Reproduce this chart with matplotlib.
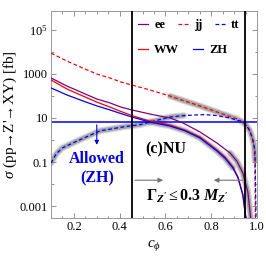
import numpy as np
import matplotlib
matplotlib.use('Agg')
import matplotlib.pyplot as plt

plt.rcParams['font.family'] = ['Liberation Serif', 'DejaVu Serif']
plt.rcParams['mathtext.fontset'] = 'custom'
plt.rcParams['mathtext.rm'] = 'Liberation Serif'
plt.rcParams['mathtext.it'] = 'Liberation Serif:italic'
plt.rcParams['mathtext.bf'] = 'Liberation Serif:bold'
plt.rcParams['mathtext.bfit'] = 'Liberation Serif:italic:bold'

# cross sections (fb) vs c_phi
c_ee = [0.100, 0.170, 0.240, 0.301, 0.358, 0.406, 0.454, 0.533, 0.620, 0.677,
        0.751, 0.825, 0.882, 0.912, 0.938, 0.960, 0.973]
s_ee = [650, 280, 135, 72, 48, 31, 23, 15, 10, 5.9,
        2.3, 0.73, 0.26, 0.11, 0.032, 0.0044, 0.00026]

c_jj = [0.100, 0.170, 0.240, 0.301, 0.358, 0.406, 0.454, 0.533, 0.620, 0.686,
        0.751, 0.817, 0.864, 0.908, 0.938, 0.956, 0.969, 0.978, 0.987, 0.991, 0.993]
s_jj = [8700, 3800, 1800, 980, 650, 425, 310, 185, 98, 58,
        35, 20, 13.5, 9.4, 6.5, 4.3, 2.6, 1.35, 0.59, 0.12, 0.0002]

c_tt = [0.100, 0.122, 0.148, 0.214, 0.314, 0.414, 0.489, 0.533, 0.620, 0.680,
        0.720, 0.772, 0.825, 0.882, 0.912, 0.938, 0.956, 0.969, 0.982, 0.991, 0.996]
s_tt = [0.09, 0.23, 0.43, 0.9, 2.6, 3.9, 5.0, 6.5, 11, 12.8,
        13.5, 14.2, 12.8, 10, 8, 6.5, 4.3, 2.6, 1.0, 0.35, 0.0002]

c_vv = [0.100, 0.170, 0.240, 0.301, 0.358, 0.406, 0.454, 0.533, 0.620, 0.686,
        0.751, 0.825, 0.860, 0.895, 0.917, 0.938, 0.952]
s_ww = [530, 205, 98, 52, 31, 19.5, 12.8, 7.2, 4.8, 2.8,
        1.35, 0.35, 0.17, 0.059, 0.021, 0.0035, 0.00026]
s_zh = [230, 110, 59, 35, 23, 15.8, 11, 6.5, 4.3, 2.6,
        1.23, 0.32, 0.15, 0.054, 0.019, 0.0032, 0.00026]

zh_limit = 6.5
c_width = [0.455, 0.949]

yticks = [1e5, 1e3, 10, 0.1, 0.001]
ylabels = [r'$\mathregular{10^5}$', '1000', '10', '0.1', '0.001']
xticks = [0.2, 0.4, 0.6, 0.8, 1.0]
xlabels = ['0.2', '0.4', '0.6', '0.8', '1.0']

fig = plt.figure(figsize=(2.66, 2.66), dpi=100)
ax = fig.add_axes([51/266, 48/266, 206/266, 207/266])
ax.set_yscale('log')


def band(c, s, lo, hi):
    c = np.array(c)
    s = np.array(s)
    m = (c >= lo) & (c <= hi)
    ax.plot(c[m], s[m], color='0.45', lw=5.0, alpha=0.25, solid_capstyle='round', zorder=1)
    ax.plot(c[m], s[m], color='0.4', lw=3.2, alpha=0.45, solid_capstyle='round', zorder=1)


band(c_tt, s_tt, 0.1, 0.68)
band(c_vv, s_zh, 0.533, 0.895)
band(c_ee, s_ee, 0.882, 1.0)
band(c_jj, s_jj, 0.62, 0.991)

l_ee, = ax.plot(c_ee, s_ee, color='#800080', lw=0.9, zorder=3)
l_jj, = ax.plot(c_jj, s_jj, color='red', lw=0.9, dashes=(3, 2), zorder=3)
l_tt, = ax.plot(c_tt, s_tt, color='blue', lw=0.9, dashes=(3, 2), zorder=3)
l_ww, = ax.plot(c_vv, s_ww, color='red', lw=0.9, zorder=3)
l_zh, = ax.plot(c_vv, s_zh, color='blue', lw=0.9, zorder=3)

ax.axhline(zh_limit, color='blue', lw=1.1, zorder=2)
for cw in c_width:
    ax.axvline(cw, color='black', lw=1.3, zorder=4)

ax.set_xlim(0.1, 1.0)
ax.set_ylim(2.9e-4, 7.1e5)

# allowed arrow under the ZH limit
ax.annotate('', xy=(0.3, 0.45), xytext=(0.3, zh_limit),
            arrowprops=dict(arrowstyle='-|>', color='blue', lw=0.8, mutation_scale=6))
ax.text(0.223, 0.285, 'Allowed', transform=ax.transAxes, ha='center', va='center',
        color='blue', fontsize=11.5, fontweight='bold')
ax.text(0.223, 0.193, '(ZH)', transform=ax.transAxes, ha='center', va='center',
        color='blue', fontsize=11.5, fontweight='bold')
ax.text(0.556, 0.33, '(c)NU', transform=ax.transAxes, ha='center', va='center',
        fontsize=11.5, fontweight='bold')

# width constraint arrows
ax.annotate('', xy=(0.602, 0.015), xytext=(c_width[0], 0.015),
            arrowprops=dict(arrowstyle='-|>', color='0.45', lw=0.8, mutation_scale=7))
ax.annotate('', xy=(0.799, 0.015), xytext=(c_width[1], 0.015),
            arrowprops=dict(arrowstyle='-|>', color='0.45', lw=0.8, mutation_scale=7))
ax.text(0.663, 0.106, r"$\mathbf{\Gamma}_{\mathbfit{Z'}} \leq \mathbf{0.3}\ \mathbfit{M}_{\mathbfit{Z'}}$",
        transform=ax.transAxes, ha='center', va='center', fontsize=11.5)

ax.set_yticks(yticks)
ax.set_yticklabels(ylabels)
ax.set_yticks([1e4, 100, 1, 0.01], minor=True)
ax.yaxis.set_minor_formatter(plt.NullFormatter())
ax.set_xticks(xticks)
ax.set_xticklabels(xlabels)
ax.set_xticks(np.arange(0.1, 1.0, 0.05), minor=True)
ax.tick_params(which='both', direction='in', top=True, right=True, color='0.5',
               width=0.6, labelsize=9, pad=2)
ax.tick_params(which='major', length=3.5)
ax.tick_params(which='minor', length=1.8)
for sp in ax.spines.values():
    sp.set_color('0.6')
    sp.set_linewidth(0.7)

ax.set_ylabel(r"$\sigma$ (pp→Z'→XY) [fb]", fontsize=11, labelpad=1)
ax.set_xlabel(r'$c_\phi$', fontsize=11, labelpad=4)

lg1 = ax.legend([l_ee, l_jj, l_tt], ['ee', 'jj', 'tt'], ncol=3, loc='center left',
                bbox_to_anchor=(0.422, 0.932), frameon=False, borderpad=0, borderaxespad=0,
                handlelength=0.8, handletextpad=0.5, columnspacing=1.0,
                prop={'weight': 'bold', 'size': 9})
ax.add_artist(lg1)
ax.legend([l_ww, l_zh], ['WW', 'ZH'], ncol=2, loc='center left',
          bbox_to_anchor=(0.422, 0.812), frameon=False, borderpad=0, borderaxespad=0,
          handlelength=0.8, handletextpad=0.5, columnspacing=1.1,
          prop={'weight': 'bold', 'size': 9})

fig.savefig('out.png', dpi=100)
